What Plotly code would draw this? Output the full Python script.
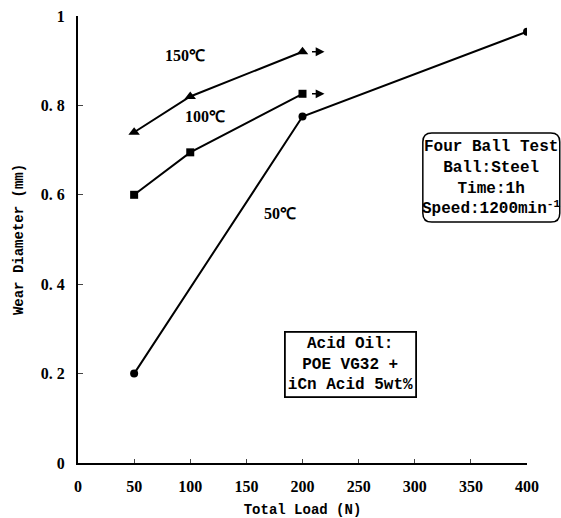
import plotly.graph_objects as go

load_150 = [50, 100, 200]
wear_150 = [0.74, 0.82, 0.92]
load_100 = [50, 100, 200]
wear_100 = [0.60, 0.695, 0.826]
load_50 = [50, 200, 400]
wear_50 = [0.20, 0.775, 0.965]

x_ticks = [0, 50, 100, 150, 200, 250, 300, 350, 400]
y_ticks = [0, 0.2, 0.4, 0.6, 0.8, 1]
y_tick_text = ["0", "0. 2", "0. 4", "0. 6", "0. 8", "1"]

SERIF = "Liberation Serif"
MONO = "Liberation Mono"

fig = go.Figure()
fig.add_trace(go.Scatter(x=load_150, y=wear_150, mode="lines+markers",
                         line=dict(color="black", width=2),
                         marker=dict(symbol="triangle-up", size=10, color="black"),
                         showlegend=False))
fig.add_trace(go.Scatter(x=load_100, y=wear_100, mode="lines+markers",
                         line=dict(color="black", width=2),
                         marker=dict(symbol="square", size=8, color="black"),
                         showlegend=False))
fig.add_trace(go.Scatter(x=load_50, y=wear_50, mode="lines+markers",
                         line=dict(color="black", width=2),
                         marker=dict(symbol="circle", size=8, color="black"),
                         showlegend=False))

# arrows indicating continuation beyond last point
for xs, ys in ((load_150, wear_150), (load_100, wear_100)):
    fig.add_annotation(x=xs[-1], y=ys[-1], ax=-14, ay=0, axref="pixel", ayref="pixel",
                       xshift=22, text="", showarrow=True, arrowhead=2,
                       arrowsize=1.1, arrowwidth=1.6, arrowcolor="black")

lab_font = dict(family=SERIF, size=16, color="black", weight="bold")
fig.add_annotation(x=95, y=0.912, text="150℃", showarrow=False, font=lab_font)
fig.add_annotation(x=113, y=0.776, text="100℃", showarrow=False, font=lab_font)
fig.add_annotation(x=180, y=0.558, text="50℃", showarrow=False, font=lab_font)

# Four Ball Test box (rounded)
x0, x1, y0, y1 = 0.768, 1.073, 0.539, 0.738
rx, ry = 0.02, 0.02
path = (f"M {x0+rx},{y0} L {x1-rx},{y0} Q {x1},{y0} {x1},{y0+ry} "
        f"L {x1},{y1-ry} Q {x1},{y1} {x1-rx},{y1} L {x0+rx},{y1} "
        f"Q {x0},{y1} {x0},{y1-ry} L {x0},{y0+ry} Q {x0},{y0} {x0+rx},{y0} Z")
fig.add_shape(type="path", path=path, xref="paper", yref="paper",
              line=dict(color="black", width=1.5), fillcolor="white", layer="below")
box_font = dict(family=MONO, size=16, color="black", weight="bold")
fig.add_annotation(x=(x0+x1)/2, y=(y0+y1)/2, xref="paper", yref="paper",
                   xanchor="center", yanchor="middle",
                   text="Four Ball Test<br>Ball:Steel<br>Time:1h<br>Speed:1200min<sup>-1</sup>",
                   showarrow=False, align="center", font=box_font)

# Acid oil box
fig.add_annotation(x=242.5, y=0.221, xanchor="center", yanchor="middle",
                   text="Acid Oil:<br>POE VG32 +<br>iCn Acid 5wt%",
                   showarrow=False, align="center",
                   bgcolor="white", bordercolor="black", borderwidth=1.8, borderpad=2,
                   font=box_font)

tick_font = dict(family=SERIF, size=16, color="black", weight="bold")
fig.update_layout(
    width=561, height=518,
    margin=dict(l=78, r=34, t=16, b=55),
    paper_bgcolor="white", plot_bgcolor="white",
    xaxis=dict(range=[0, 400], tickvals=x_ticks, ticks="inside", ticklen=4,
               automargin=False, ticklabelstandoff=8,
               showline=True, linecolor="black", linewidth=2, showgrid=False,
               zeroline=False, tickfont=tick_font,
               title=dict(text="Total Load (N)", standoff=10,
                          font=dict(family=MONO, size=14, color="black", weight="bold"))),
    yaxis=dict(range=[0, 1], tickvals=y_ticks, ticktext=y_tick_text,
               ticks="inside", ticklen=5, automargin=False, ticklabelstandoff=8,
               showline=True, linecolor="black", linewidth=2, showgrid=False,
               zeroline=False, tickfont=tick_font,
               title=dict(text="Wear Diameter (mm)", standoff=14,
                          font=dict(family=MONO, size=14, color="black", weight="bold"))),
)

fig.write_html("out.html", config={"displayModeBar": False},
               post_script="document.body.style.margin='0';document.body.style.overflow='hidden';")
